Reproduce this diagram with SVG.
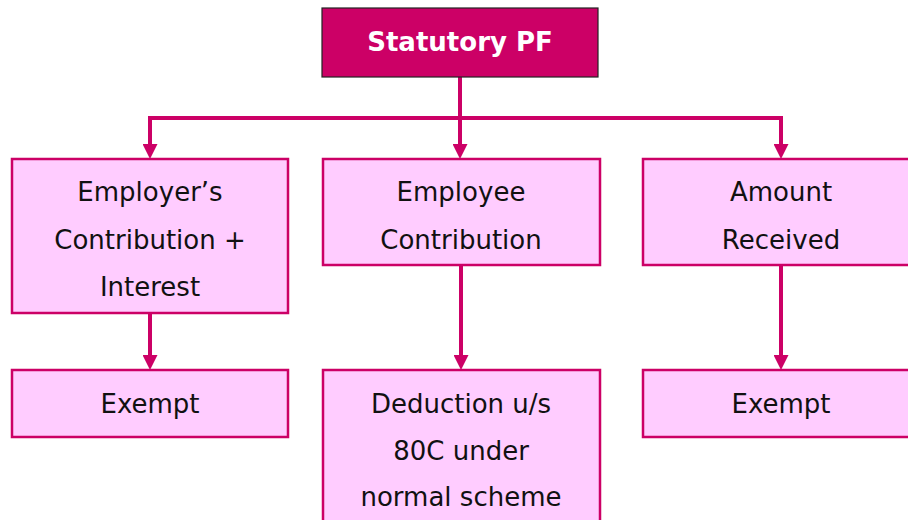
<svg xmlns="http://www.w3.org/2000/svg" width="908" height="520" viewBox="0 0 908 520">
<defs>
<marker id="ah" markerWidth="15" markerHeight="15" refX="0" refY="7.5" orient="auto" markerUnits="userSpaceOnUse" viewBox="0 0 15 15">
<path d="M0,0 L15,7.5 L0,15 z" fill="#CC0066"/>
</marker>
<style>
.box{fill:#FFCCFF;stroke:#CC0066;stroke-width:2.5}
.top{fill:#CC0066;stroke:#222;stroke-width:1.2}
.t{font-family:"DejaVu Sans",Verdana,sans-serif;font-size:26px;fill:#111;text-anchor:middle}
.tw{font-family:"DejaVu Sans",Verdana,sans-serif;font-size:26px;font-weight:bold;fill:#fff;text-anchor:middle}
.c{stroke:#CC0066;stroke-width:4;fill:none}
</style>
</defs>
<rect width="908" height="520" fill="#fff"/>
<g id="connectors">
<path class="c" d="M460,77 V118"/>
<path class="c" d="M150,118 H781"/>
<path class="c" d="M150,116 V144" marker-end="url(#ah)"/>
<path class="c" d="M460,116 V144" marker-end="url(#ah)"/>
<path class="c" d="M781,116 V144" marker-end="url(#ah)"/>
<path class="c" d="M150,313 V355" marker-end="url(#ah)"/>
<path class="c" d="M461,265 V355" marker-end="url(#ah)"/>
<path class="c" d="M781,265 V355" marker-end="url(#ah)"/>
</g>
<g id="statutory">
<rect class="top" x="322" y="8" width="276" height="69"/>
<text class="tw" x="460" y="51">Statutory PF</text>
</g>
<g id="employer">
<rect class="box" x="12" y="159" width="276" height="154"/>
<text class="t" x="150" y="201">Employer’s</text>
<text class="t" x="150" y="249">Contribution +</text>
<text class="t" x="150" y="296">Interest</text>
</g>
<g id="employee">
<rect class="box" x="323" y="159" width="277" height="106"/>
<text class="t" x="461" y="201">Employee</text>
<text class="t" x="461" y="249">Contribution</text>
</g>
<g id="amount">
<rect class="box" x="643" y="159" width="277" height="106"/>
<text class="t" x="781" y="201">Amount</text>
<text class="t" x="781" y="249">Received</text>
</g>
<g id="exempt1">
<rect class="box" x="12" y="370" width="276" height="67"/>
<text class="t" x="150" y="413">Exempt</text>
</g>
<g id="deduction">
<rect class="box" x="323" y="370" width="277" height="160"/>
<text class="t" x="461" y="413">Deduction u/s</text>
<text class="t" x="461" y="460">80C under</text>
<text class="t" x="461" y="506">normal scheme</text>
</g>
<g id="exempt2">
<rect class="box" x="643" y="370" width="277" height="67"/>
<text class="t" x="781" y="413">Exempt</text>
</g>
</svg>
